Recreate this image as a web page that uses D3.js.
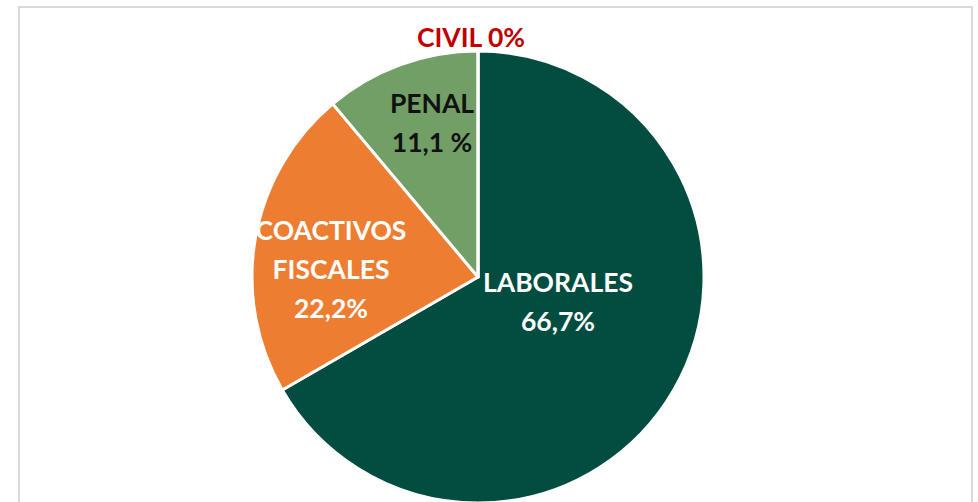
<!DOCTYPE html>
<html>
<head>
    <meta charset="utf-8">
    <title>Pie</title>
    <script src="https://cdnjs.cloudflare.com/ajax/libs/d3/7.8.5/d3.min.js"></script>
    <style>
        html, body {
            margin: 0;
            padding: 0;
            background: #fff;
            width: 978px;
            height: 502px;
            overflow: hidden;
        }
        .lbl {
            font-family: 'Lato', 'Noto Sans', sans-serif;
            font-weight: 700;
            font-size: 26.5px;
            text-anchor: middle;
        }
    </style>
</head>
<body>
    <div id="chart"></div>
    <script>
        // slices, clockwise from 12 o'clock
        const categories = ["LABORALES", "COACTIVOS FISCALES", "PENAL", "CIVIL"];
        const counts = [6, 2, 1, 0];
        const labelLines = [
            ["LABORALES", "66,7%"],
            ["COACTIVOS", "FISCALES", "22,2%"],
            ["PENAL", "11,1 %"],
            ["CIVIL 0%"]
        ];

        const colors = ["#024D40", "#ED7D31", "#719F65", "#BFBFBF"];
        const textColors = ["#fff", "#fff", "#111", "#C00000"];
        // label placement relative to pie centre (first-line baseline)
        const labelOffset = [[80, 15], [-147, -37], [-46, -164], [-7, -230]];

        const width = 978, height = 502;
        const cx = 478, cy = 277, radius = 226;

        const svg = d3.select("#chart")
            .append("svg")
            .attr("width", width)
            .attr("height", height);

        // chart frame
        svg.append("rect")
            .attr("x", 19)
            .attr("y", 7)
            .attr("width", 953)
            .attr("height", 520)
            .attr("fill", "#fff")
            .attr("stroke", "#d9d9d9")
            .attr("stroke-width", 2);

        const pie = d3.pie().sort(null).value(d => d);
        const arc = d3.arc().innerRadius(0).outerRadius(radius);

        const g = svg.append("g")
            .attr("transform", `translate(${cx},${cy})`);

        const arcs = pie(counts);

        g.selectAll("path")
            .data(arcs)
            .enter()
            .append("path")
            .attr("d", arc)
            .attr("fill", (d, i) => colors[i])
            .attr("stroke", "#fff")
            .attr("stroke-width", 3)
            .attr("stroke-linejoin", "round");

        const labels = g.selectAll("text")
            .data(arcs)
            .enter()
            .append("text")
            .attr("class", "lbl")
            .attr("fill", (d, i) => textColors[i])
            .attr("transform", (d, i) => `translate(${labelOffset[i][0]},${labelOffset[i][1]})`);

        labels.each(function (d, i) {
            const t = d3.select(this);
            labelLines[i].forEach((line, j) => {
                t.append("tspan")
                    .attr("x", 0)
                    .attr("y", j * 39)
                    .text(line);
            });
        });
    </script>
</body>
</html>
